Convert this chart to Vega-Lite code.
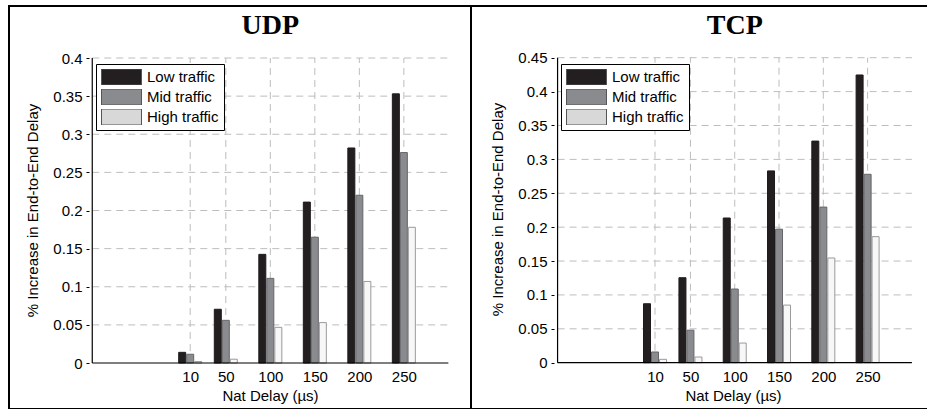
{
  "$schema": "https://vega.github.io/schema/vega-lite/v6.json",
  "padding": {"left": 8, "top": 5, "right": 0, "bottom": 0},
  "spacing": 0,
  "bounds": "flush",
  "background": "white",
  "datasets": {
    "bars": [
      {"proto": "UDP", "delay": 10, "traffic": "Low traffic", "value": 0.014},
      {"proto": "UDP", "delay": 10, "traffic": "Mid traffic", "value": 0.0115},
      {"proto": "UDP", "delay": 10, "traffic": "High traffic", "value": 0.002},
      {"proto": "UDP", "delay": 50, "traffic": "Low traffic", "value": 0.0705},
      {"proto": "UDP", "delay": 50, "traffic": "Mid traffic", "value": 0.056},
      {"proto": "UDP", "delay": 50, "traffic": "High traffic", "value": 0.005},
      {"proto": "UDP", "delay": 100, "traffic": "Low traffic", "value": 0.1425},
      {"proto": "UDP", "delay": 100, "traffic": "Mid traffic", "value": 0.111},
      {"proto": "UDP", "delay": 100, "traffic": "High traffic", "value": 0.0468},
      {"proto": "UDP", "delay": 150, "traffic": "Low traffic", "value": 0.211},
      {"proto": "UDP", "delay": 150, "traffic": "Mid traffic", "value": 0.165},
      {"proto": "UDP", "delay": 150, "traffic": "High traffic", "value": 0.053},
      {"proto": "UDP", "delay": 200, "traffic": "Low traffic", "value": 0.282},
      {"proto": "UDP", "delay": 200, "traffic": "Mid traffic", "value": 0.22},
      {"proto": "UDP", "delay": 200, "traffic": "High traffic", "value": 0.107},
      {"proto": "UDP", "delay": 250, "traffic": "Low traffic", "value": 0.353},
      {"proto": "UDP", "delay": 250, "traffic": "Mid traffic", "value": 0.276},
      {"proto": "UDP", "delay": 250, "traffic": "High traffic", "value": 0.178},
      {"proto": "TCP", "delay": 10, "traffic": "Low traffic", "value": 0.087},
      {"proto": "TCP", "delay": 10, "traffic": "Mid traffic", "value": 0.0158},
      {"proto": "TCP", "delay": 10, "traffic": "High traffic", "value": 0.005},
      {"proto": "TCP", "delay": 50, "traffic": "Low traffic", "value": 0.1254},
      {"proto": "TCP", "delay": 50, "traffic": "Mid traffic", "value": 0.048},
      {"proto": "TCP", "delay": 50, "traffic": "High traffic", "value": 0.0084},
      {"proto": "TCP", "delay": 100, "traffic": "Low traffic", "value": 0.2135},
      {"proto": "TCP", "delay": 100, "traffic": "Mid traffic", "value": 0.1087},
      {"proto": "TCP", "delay": 100, "traffic": "High traffic", "value": 0.029},
      {"proto": "TCP", "delay": 150, "traffic": "Low traffic", "value": 0.283},
      {"proto": "TCP", "delay": 150, "traffic": "Mid traffic", "value": 0.197},
      {"proto": "TCP", "delay": 150, "traffic": "High traffic", "value": 0.085},
      {"proto": "TCP", "delay": 200, "traffic": "Low traffic", "value": 0.327},
      {"proto": "TCP", "delay": 200, "traffic": "Mid traffic", "value": 0.2296},
      {"proto": "TCP", "delay": 200, "traffic": "High traffic", "value": 0.1545},
      {"proto": "TCP", "delay": 250, "traffic": "Low traffic", "value": 0.4245},
      {"proto": "TCP", "delay": 250, "traffic": "Mid traffic", "value": 0.278},
      {"proto": "TCP", "delay": 250, "traffic": "High traffic", "value": 0.186}
    ],
    "xgrid": [{"delay": 10}, {"delay": 50}, {"delay": 100}, {"delay": 150}, {"delay": 200}, {"delay": 250}],
    "ygridU": [{"value": 0.05}, {"value": 0.1}, {"value": 0.15}, {"value": 0.2}, {"value": 0.25}, {"value": 0.3}, {"value": 0.35}, {"value": 0.4}],
    "ygridT": [{"value": 0.05}, {"value": 0.1}, {"value": 0.15}, {"value": 0.2}, {"value": 0.25}, {"value": 0.3}, {"value": 0.35}, {"value": 0.4}, {"value": 0.45}],
    "titleU": [{"label": "UDP"}],
    "titleT": [{"label": "TCP"}],
    "one": [{"k": 1}]
  },
  "hconcat": [
    {
      "width": 462,
      "height": 403,
      "layer": [
        {
          "data": {"name": "ygridU"},
          "mark": {"type": "rule", "color": "#bdbdbd", "strokeDash": [7, 5], "strokeWidth": 1},
          "encoding": {
            "y": {"field": "value", "type": "quantitative", "scale": {"domain": [-0.0603, 0.4682], "nice": false, "zero": false}},
            "x": {"datum": -100, "type": "quantitative", "scale": {"domain": [-187.9, 319.8], "nice": false, "zero": false}},
            "x2": {"datum": 300}
          }
        },
        {
          "data": {"name": "xgrid"},
          "mark": {"type": "rule", "color": "#bdbdbd", "strokeDash": [7, 5], "strokeWidth": 1},
          "encoding": {
            "x": {"field": "delay", "type": "quantitative", "scale": {"domain": [-187.9, 319.8], "nice": false, "zero": false}},
            "y": {"datum": 0, "type": "quantitative", "scale": {"domain": [-0.0603, 0.4682], "nice": false, "zero": false}},
            "y2": {"datum": 0.4}
          }
        },
        {
          "data": {"name": "bars"},
          "transform": [{"filter": "datum.proto === 'UDP'"}],
          "encoding": {
            "x": {
              "field": "delay", "type": "quantitative",
              "scale": {"domain": [-187.9, 319.8], "nice": false, "zero": false},
              "axis": {
                "title": "Nat Delay (µs)", "orient": "bottom", "offset": -46,
                "values": [10, 50, 100, 150, 200, 250],
                "domain": false, "ticks": false, "tickSize": 0, "grid": false,
                "labelFont": "Liberation Sans", "labelFontSize": 15, "labelColor": "black",
                "labelBaseline": "alphabetic", "labelPadding": 18, "labelFlush": false, "labelOverlap": false,
                "titleFont": "Liberation Sans", "titleFontSize": 15, "titleFontWeight": "normal", "titleColor": "black",
                "titleX": 261, "titleY": 37, "titleBaseline": "alphabetic", "titleAlign": "center"
              }
            },
            "y": {
              "field": "value", "type": "quantitative",
              "scale": {"domain": [-0.0603, 0.4682], "nice": false, "zero": false},
              "axis": {
                "title": "% Increase in End-to-End Delay", "orient": "left", "offset": -80,
                "values": [0, 0.05, 0.1, 0.15, 0.2, 0.25, 0.3, 0.35, 0.4], "format": "~g",
                "domain": false, "ticks": true, "tickSize": 3, "tickColor": "black", "grid": false,
                "labelFont": "Liberation Sans", "labelFontSize": 15, "labelColor": "black", "labelPadding": 4,
                "labelOverlap": false, "labelFlush": false,
                "titleFont": "Liberation Sans", "titleFontSize": 15, "titleFontWeight": "normal", "titleColor": "black",
                "titleX": -49, "titleY": 204, "titleAngle": 270, "titleBaseline": "bottom", "titleAlign": "center"
              }
            },
            "y2": {"datum": 0},
            "color": {
              "field": "traffic", "type": "nominal",
              "scale": {"domain": ["Low traffic", "Mid traffic", "High traffic"], "range": ["#231f20", "#8a8b8f", "#d8d8d8"]},
              "legend": {
                "orient": "none", "legendX": 87, "legendY": 58, "title": null,
                "symbolType": "M-1,-0.4H1V0.4H-1Z", "symbolSize": 1600,
                "symbolStrokeColor": "#555555", "symbolStrokeWidth": 1, "symbolOpacity": 1,
                "clipHeight": 16, "rowPadding": 4, "labelOffset": 5, "padding": 5,
                "strokeColor": "black", "fillColor": "white",
                "labelFont": "Liberation Sans", "labelFontSize": 15, "labelColor": "black", "labelLimit": 0
              }
            }
          },
          "layer": [
            {"transform": [{"filter": "datum.traffic === 'Low traffic'"}], "mark": {"type": "bar", "width": 7, "xOffset": -8, "stroke": "#1e1b1c", "strokeWidth": 1}},
            {"transform": [{"filter": "datum.traffic === 'Mid traffic'"}], "mark": {"type": "bar", "width": 7, "xOffset": 0, "stroke": "#66666a", "strokeWidth": 1}},
            {"transform": [{"filter": "datum.traffic === 'High traffic'"}], "mark": {"type": "bar", "width": 7, "xOffset": 8, "stroke": "#9a9a9a", "strokeWidth": 1}, "encoding": {"color": {"value": "#f7f7f7"}}}
          ]
        },
        {
          "data": {"name": "one"},
          "mark": {"type": "rule", "color": "black", "strokeWidth": 1.2},
          "encoding": {
            "x": {"datum": -100, "type": "quantitative", "scale": {"domain": [-187.9, 319.8], "nice": false, "zero": false}},
            "y": {"datum": 0, "type": "quantitative", "scale": {"domain": [-0.0603, 0.4682], "nice": false, "zero": false}},
            "y2": {"datum": 0.4}
          }
        },
        {
          "data": {"name": "one"},
          "mark": {"type": "rule", "color": "black", "strokeWidth": 1.2},
          "encoding": {
            "y": {"datum": 0, "type": "quantitative", "scale": {"domain": [-0.0603, 0.4682], "nice": false, "zero": false}},
            "x": {"datum": -100, "type": "quantitative", "scale": {"domain": [-187.9, 319.8], "nice": false, "zero": false}},
            "x2": {"datum": 300}
          }
        },
        {
          "data": {"name": "titleU"},
          "mark": {"type": "text", "font": "Liberation Serif", "fontSize": 28, "fontWeight": "bold", "color": "black", "baseline": "alphabetic", "align": "center"},
          "encoding": {
            "text": {"field": "label"},
            "x": {"datum": 100, "type": "quantitative", "scale": {"domain": [-187.9, 319.8], "nice": false, "zero": false}},
            "y": {"datum": 0.4315, "type": "quantitative", "scale": {"domain": [-0.0603, 0.4682], "nice": false, "zero": false}}
          }
        }
      ]
    },
    {
      "width": 459,
      "height": 403,
      "layer": [
        {
          "data": {"name": "ygridT"},
          "mark": {"type": "rule", "color": "#bdbdbd", "strokeDash": [7, 5], "strokeWidth": 1},
          "encoding": {
            "y": {"field": "value", "type": "quantitative", "scale": {"domain": [-0.0683, 0.5263], "nice": false, "zero": false}},
            "x": {"datum": -100, "type": "quantitative", "scale": {"domain": [-192.1, 314.8], "nice": false, "zero": false}},
            "x2": {"datum": 300}
          }
        },
        {
          "data": {"name": "xgrid"},
          "mark": {"type": "rule", "color": "#bdbdbd", "strokeDash": [7, 5], "strokeWidth": 1},
          "encoding": {
            "x": {"field": "delay", "type": "quantitative", "scale": {"domain": [-192.1, 314.8], "nice": false, "zero": false}},
            "y": {"datum": 0, "type": "quantitative", "scale": {"domain": [-0.0683, 0.5263], "nice": false, "zero": false}},
            "y2": {"datum": 0.45}
          }
        },
        {
          "data": {"name": "bars"},
          "transform": [{"filter": "datum.proto === 'TCP'"}],
          "encoding": {
            "x": {
              "field": "delay", "type": "quantitative",
              "scale": {"domain": [-192.1, 314.8], "nice": false, "zero": false},
              "axis": {
                "title": "Nat Delay (µs)", "orient": "bottom", "offset": -46,
                "values": [10, 50, 100, 150, 200, 250],
                "domain": false, "ticks": false, "tickSize": 0, "grid": false,
                "labelFont": "Liberation Sans", "labelFontSize": 15, "labelColor": "black",
                "labelBaseline": "alphabetic", "labelPadding": 18, "labelFlush": false, "labelOverlap": false,
                "titleFont": "Liberation Sans", "titleFontSize": 15, "titleFontWeight": "normal", "titleColor": "black",
                "titleX": 262, "titleY": 37, "titleBaseline": "alphabetic", "titleAlign": "center"
              }
            },
            "y": {
              "field": "value", "type": "quantitative",
              "scale": {"domain": [-0.0683, 0.5263], "nice": false, "zero": false},
              "axis": {
                "title": "% Increase in End-to-End Delay", "orient": "left", "offset": -83,
                "values": [0, 0.05, 0.1, 0.15, 0.2, 0.25, 0.3, 0.35, 0.4, 0.45], "format": "~g",
                "domain": false, "ticks": true, "tickSize": 3, "tickColor": "black", "grid": false,
                "labelFont": "Liberation Sans", "labelFontSize": 15, "labelColor": "black", "labelPadding": 4,
                "labelOverlap": false, "labelFlush": false,
                "titleFont": "Liberation Sans", "titleFontSize": 15, "titleFontWeight": "normal", "titleColor": "black",
                "titleX": -49, "titleY": 203, "titleAngle": 270, "titleBaseline": "bottom", "titleAlign": "center"
              }
            },
            "y2": {"datum": 0},
            "color": {
              "field": "traffic", "type": "nominal",
              "scale": {"domain": ["Low traffic", "Mid traffic", "High traffic"], "range": ["#231f20", "#8a8b8f", "#d8d8d8"]},
              "legend": {
                "orient": "none", "legendX": 90, "legendY": 58, "title": null,
                "symbolType": "M-1,-0.4H1V0.4H-1Z", "symbolSize": 1600,
                "symbolStrokeColor": "#555555", "symbolStrokeWidth": 1, "symbolOpacity": 1,
                "clipHeight": 16, "rowPadding": 4, "labelOffset": 5, "padding": 5,
                "strokeColor": "black", "fillColor": "white",
                "labelFont": "Liberation Sans", "labelFontSize": 15, "labelColor": "black", "labelLimit": 0
              }
            }
          },
          "layer": [
            {"transform": [{"filter": "datum.traffic === 'Low traffic'"}], "mark": {"type": "bar", "width": 7, "xOffset": -8, "stroke": "#1e1b1c", "strokeWidth": 1}},
            {"transform": [{"filter": "datum.traffic === 'Mid traffic'"}], "mark": {"type": "bar", "width": 7, "xOffset": 0, "stroke": "#66666a", "strokeWidth": 1}},
            {"transform": [{"filter": "datum.traffic === 'High traffic'"}], "mark": {"type": "bar", "width": 7, "xOffset": 8, "stroke": "#9a9a9a", "strokeWidth": 1}, "encoding": {"color": {"value": "#f7f7f7"}}}
          ]
        },
        {
          "data": {"name": "one"},
          "mark": {"type": "rule", "color": "black", "strokeWidth": 1.2},
          "encoding": {
            "x": {"datum": -100, "type": "quantitative", "scale": {"domain": [-192.1, 314.8], "nice": false, "zero": false}},
            "y": {"datum": 0, "type": "quantitative", "scale": {"domain": [-0.0683, 0.5263], "nice": false, "zero": false}},
            "y2": {"datum": 0.45}
          }
        },
        {
          "data": {"name": "one"},
          "mark": {"type": "rule", "color": "black", "strokeWidth": 1.2},
          "encoding": {
            "y": {"datum": 0, "type": "quantitative", "scale": {"domain": [-0.0683, 0.5263], "nice": false, "zero": false}},
            "x": {"datum": -100, "type": "quantitative", "scale": {"domain": [-192.1, 314.8], "nice": false, "zero": false}},
            "x2": {"datum": 300}
          }
        },
        {
          "data": {"name": "titleT"},
          "mark": {"type": "text", "font": "Liberation Serif", "fontSize": 28, "fontWeight": "bold", "color": "black", "baseline": "alphabetic", "align": "center"},
          "encoding": {
            "text": {"field": "label"},
            "x": {"datum": 100, "type": "quantitative", "scale": {"domain": [-192.1, 314.8], "nice": false, "zero": false}},
            "y": {"datum": 0.485, "type": "quantitative", "scale": {"domain": [-0.0683, 0.5263], "nice": false, "zero": false}}
          }
        }
      ]
    }
  ],
  "resolve": {
    "scale": {"color": "independent"},
    "legend": {"color": "independent"}
  },
  "config": {
    "view": {"stroke": "black", "strokeWidth": 2},
    "font": "Liberation Sans"
  }
}
